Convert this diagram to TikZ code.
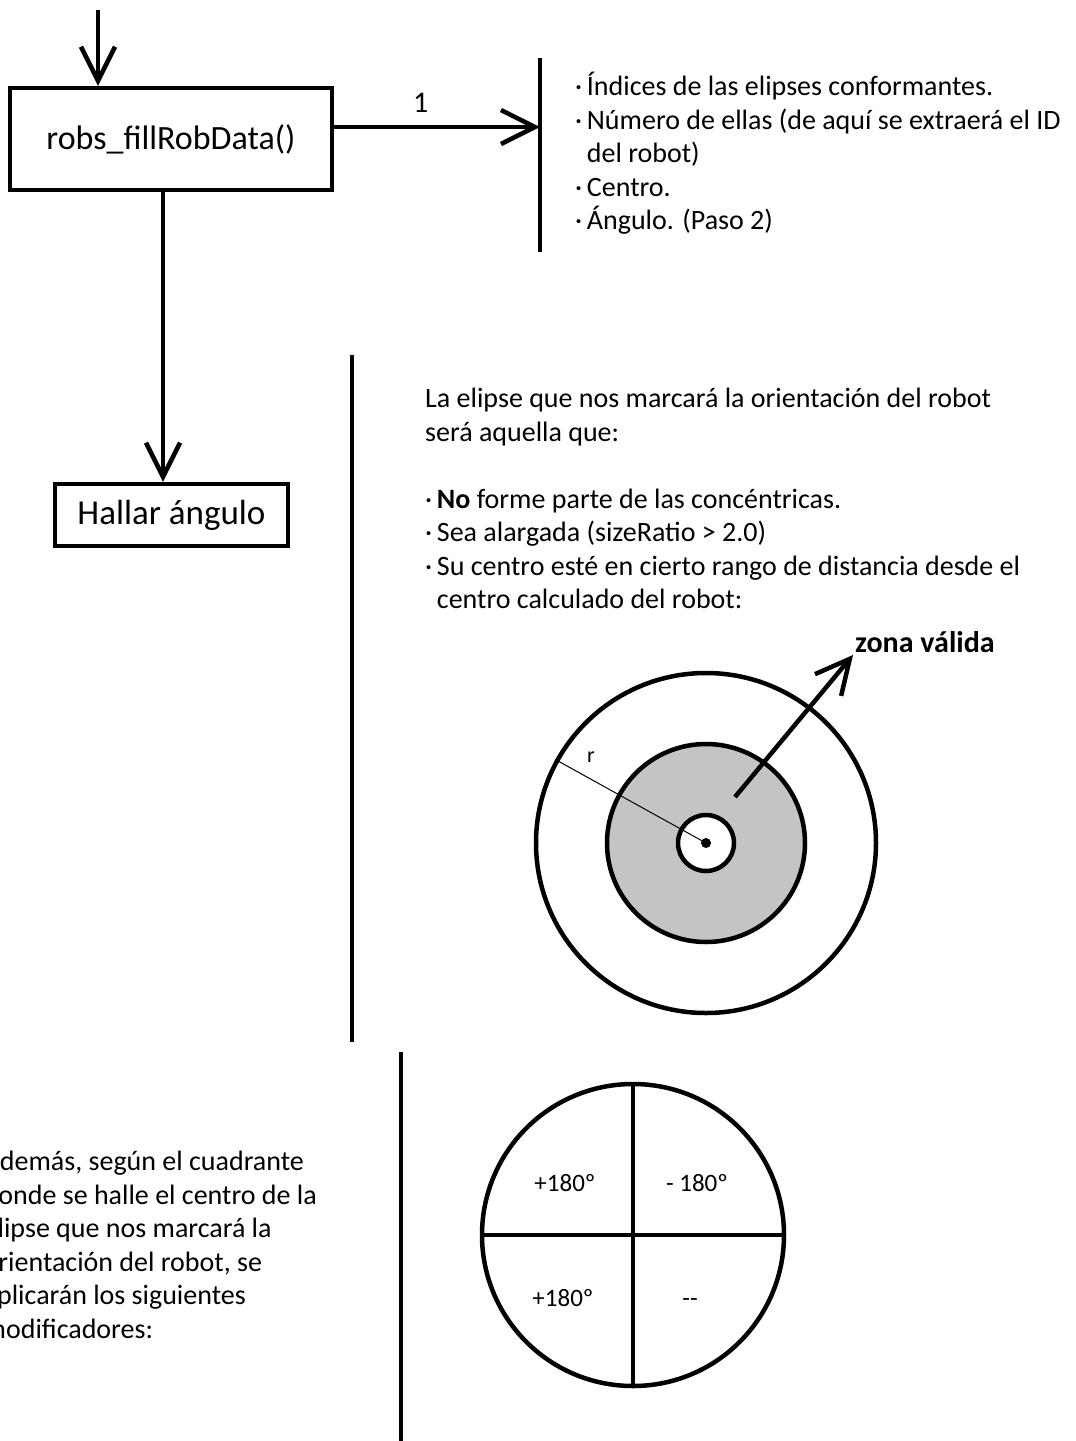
\documentclass[tikz,border=0pt]{standalone}
\usepackage{fontspec}
\setmainfont{Carlito}
\usetikzlibrary{arrows.meta,calc}

\definecolor{zonagray}{RGB}{196,196,196}

\tikzset{
  procbox/.style={draw, line width=4.5pt, inner sep=0pt, font=\fontsize{34}{40}\selectfont},
  flowline/.style={line width=4.5pt},
  barb/.style={-{Straight Barb[length=34pt,width=34pt]}},
  ring/.style={draw, circle, line width=4.5pt, inner sep=0pt},
  bodytext/.style={anchor=north west, inner sep=0pt, align=left, font=\fontsize{28}{33.5}\selectfont},
  smalltext/.style={inner sep=0pt, text height=16pt, text depth=0pt, font=\fontsize{25}{25}\selectfont},
}

\begin{document}
\begin{tikzpicture}[x=1pt,y=1pt,yscale=-1]
    \useasboundingbox (0,0) rectangle (1076,1441);
    \clip (0,0) rectangle (1076,1441);

    \node[procbox, minimum width=322pt, minimum height=102pt] (fill) at (171,139) {robs\_fillRobData()};
    \node[procbox, minimum width=233pt, minimum height=62pt, font=\fontsize{35}{40}\selectfont] (angle) at (171.5,515) {Hallar ángulo};

    \coordinate (entry) at (98,10);
    \draw[flowline,barb] (entry) -- (entry |- fill.north);

    \coordinate (bar1a) at (540,58);
    \coordinate (bar1b) at (540,252);
    \draw[flowline] (bar1a) -- (bar1b);
    \coordinate (out1) at ($(fill.east)+(0,-12)$);
    \draw[flowline,barb] (out1) -- (out1 -| bar1a)
        node[pos=0.42, above=12pt, inner sep=0pt, font=\fontsize{30}{30}\selectfont] (lbl1) {1};

    \coordinate (down1) at ($(fill.south)+(-8,0)$);
    \draw[flowline,barb] (down1) -- (down1 |- angle.north);

    \coordinate (bar2a) at (352,355);
    \coordinate (bar2b) at (352,1042);
    \draw[flowline] (bar2a) -- (bar2b);
    \coordinate (bar3a) at (401,1052);
    \coordinate (bar3b) at (401,1441);
    \draw[flowline] (bar3a) -- (bar3b);

    \node[bodytext] (datos) at (575,72) {·\,Índices de las elipses conformantes.\\
        ·\,Número de ellas (de aquí se extraerá el ID\\
        \phantom{·\,}del robot)\\
        ·\,Centro.\\
        ·\,Ángulo. (Paso 2)};

    \node[bodytext] (criterio) at (425,388) {La elipse que nos marcará la orientación del robot\\
        será aquella que:\\[33.5pt]
        ·\,\textbf{No} forme parte de las concéntricas.\\
        ·\,Sea alargada (sizeRatio > 2.0)\\
        ·\,Su centro esté en cierto rango de distancia desde el\\
        \phantom{·\,}centro calculado del robot:};

    \coordinate (centro) at (706,843);
    \node[ring, minimum size=340pt] (outer) at (centro) {};
    \node[ring, fill=zonagray, minimum size=198pt] (valid) at (centro) {};
    \node[ring, fill=white, minimum size=56pt] (core) at (centro) {};
    \node[circle, fill, inner sep=0pt, minimum size=10pt] (dot) at (centro) {};
    \draw[line width=1pt] (dot.center) -- (outer.151);
    \node[inner sep=0pt, font=\fontsize{22}{22}\selectfont] (rlbl) at (591,757) {r};

    \node[anchor=south west, inner sep=2pt, font=\bfseries\fontsize{30}{30}\selectfont] (zona) at (853,655) {zona válida};
    \coordinate (zstart) at (735,797);
    \draw[flowline,barb] (zstart) -- (zona.south west);

    \node[ring, minimum size=302pt] (quad) at (633,1235) {};
    \draw[flowline] (quad.north) -- (quad.south);
    \draw[flowline] (quad.west) -- (quad.east);
    \node[smalltext] (q1) at (565,1183) {+180º};
    \node[smalltext] (q2) at (697,1183) {- 180º};
    \node[smalltext] (q3) at (563,1298) {+180º};
    \node[smalltext] (q4) at (690,1298) {-{}-};

    \node[bodytext] (modif) at (-16.5,1151) {Además, según el cuadrante\\
        donde se halle el centro de la\\
        elipse que nos marcará la\\
        orientación del robot, se\\
        aplicarán los siguientes\\
        modificadores:};
\end{tikzpicture}
\end{document}
